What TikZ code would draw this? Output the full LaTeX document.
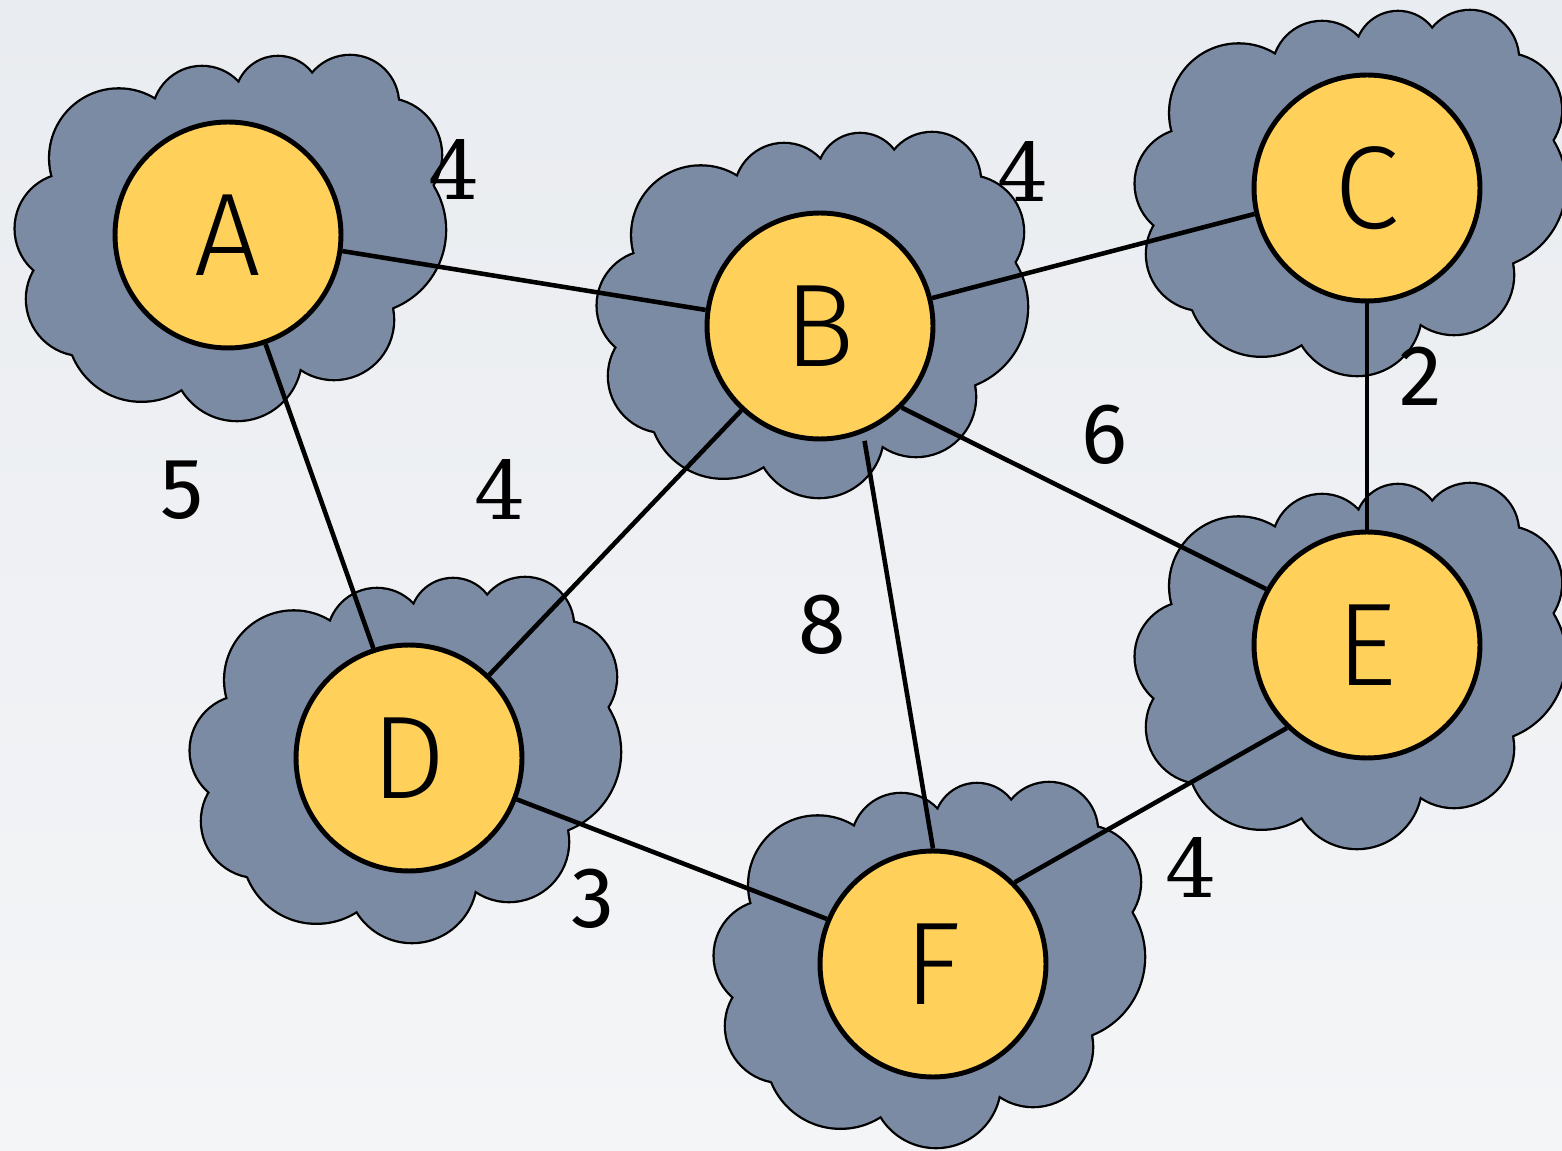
\documentclass[tikz,border=0pt]{standalone}
\usepackage{fontspec}
\newfontfamily\digitfont{Fira Sans}
\newfontfamily\letterfont{Fira Sans Light}
\newfontfamily\fourfont{DejaVu Serif}
\definecolor{bgtop}{RGB}{233,236,240}
\definecolor{bgbot}{RGB}{244,245,247}
\definecolor{cloudfill}{RGB}{123,139,163}
\definecolor{nodefill}{RGB}{255,208,90}
\tikzset{
  vertex/.style={circle, draw=black, line width=2.8pt, fill=nodefill,
    minimum size=4.52cm, inner sep=0pt,
    font=\letterfont\fontsize{67}{67}\selectfont},
  edgeline/.style={line width=2.6pt, black},
  wlabel/.style={inner sep=0pt, font=\digitfont\fontsize{49}{49}\selectfont},
  wfour/.style={inner sep=0pt, font=\fourfont\fontsize{46}{46}\selectfont},
  cloudpic/.pic={
    \foreach \cx/\cy/\cr in {118.7/158/68.5, 202/116/49, 278/99/42, 350/104/48,
        385/155/56, 362/230/83, 334/320/59, 237/356/64, 141.5/327/73.7,
        83/299/56, 70.3/228.6/54.6}
      \draw[black, line width=2.6pt] (\cx,\cy) circle[radius=\cr];
    \fill[cloudfill] (155,100) -- (240,83) -- (314,77) -- (398,102) -- (433,187)
      -- (392,308) -- (300,368) -- (182,388) -- (73,355) -- (35,270) -- (53,177) -- cycle;
    \foreach \cx/\cy/\cr in {118.7/158/68.5, 202/116/49, 278/99/42, 350/104/48,
        385/155/56, 362/230/83, 334/320/59, 237/356/64, 141.5/327/73.7,
        83/299/56, 70.3/228.6/54.6}
      \fill[cloudfill] (\cx,\cy) circle[radius=\cr];
  }
}
\begin{document}
\begin{tikzpicture}[x=0.02cm, y=-0.02cm]
\useasboundingbox (0,0) rectangle (1562,1151);
\shade[top color=bgtop, bottom color=bgbot] (0,0) rectangle (1562,1151);

% clouds
\pic at (0,0) {cloudpic};
\pic at (582,77) {cloudpic};
\pic at (1120,-45) {cloudpic};
\pic at (175,522) {cloudpic};
\pic at (1120,428) {cloudpic};
\pic at (699,727) {cloudpic};

% vertices
\node[vertex] (A) at (228,235) {A};
\node[vertex] (B) at (820,326) {B};
\node[vertex] (C) at (1367,188) {C};
\node[vertex] (D) at (409,758) {D};
\node[vertex] (E) at (1367,645) {E};
\node[vertex] (F) at (933,964) {F};

% edges
\draw[edgeline] (A.-8.5) -- (B.172);
\draw[edgeline] (A.-71.4) -- (D.108.4);
\draw[edgeline] (B.14.8) -- (C.193.6);
\draw[edgeline] (B.-133.6) -- (D.46.4);
\draw[edgeline] (B.-45) -- (E.151.8);
\draw[edgeline, shorten <=4.5pt] (B.-68) -- (F.90);
\draw[edgeline] (C.-90) -- (E.90);
\draw[edgeline] (D.-21.6) -- (F.157.6);
\draw[edgeline] (E.-134.7) -- (F.45.7);

% weights
\node[wfour]  (wAB) at (454,170) {4};
\node[wfour]  (wBC) at (1023,172) {4};
\node[wlabel] (wCE) at (1421,376) {2};
\node[wlabel] (wBE) at (1104,435) {6};
\node[wlabel] (wAD) at (182,490) {5};
\node[wfour]  (wBD) at (500,490) {4};
\node[wlabel] (wBF) at (822,625) {8};
\node[wlabel] (wDF) at (593,899) {3};
\node[wfour]  (wEF) at (1191,868) {4};
\end{tikzpicture}
\end{document}
